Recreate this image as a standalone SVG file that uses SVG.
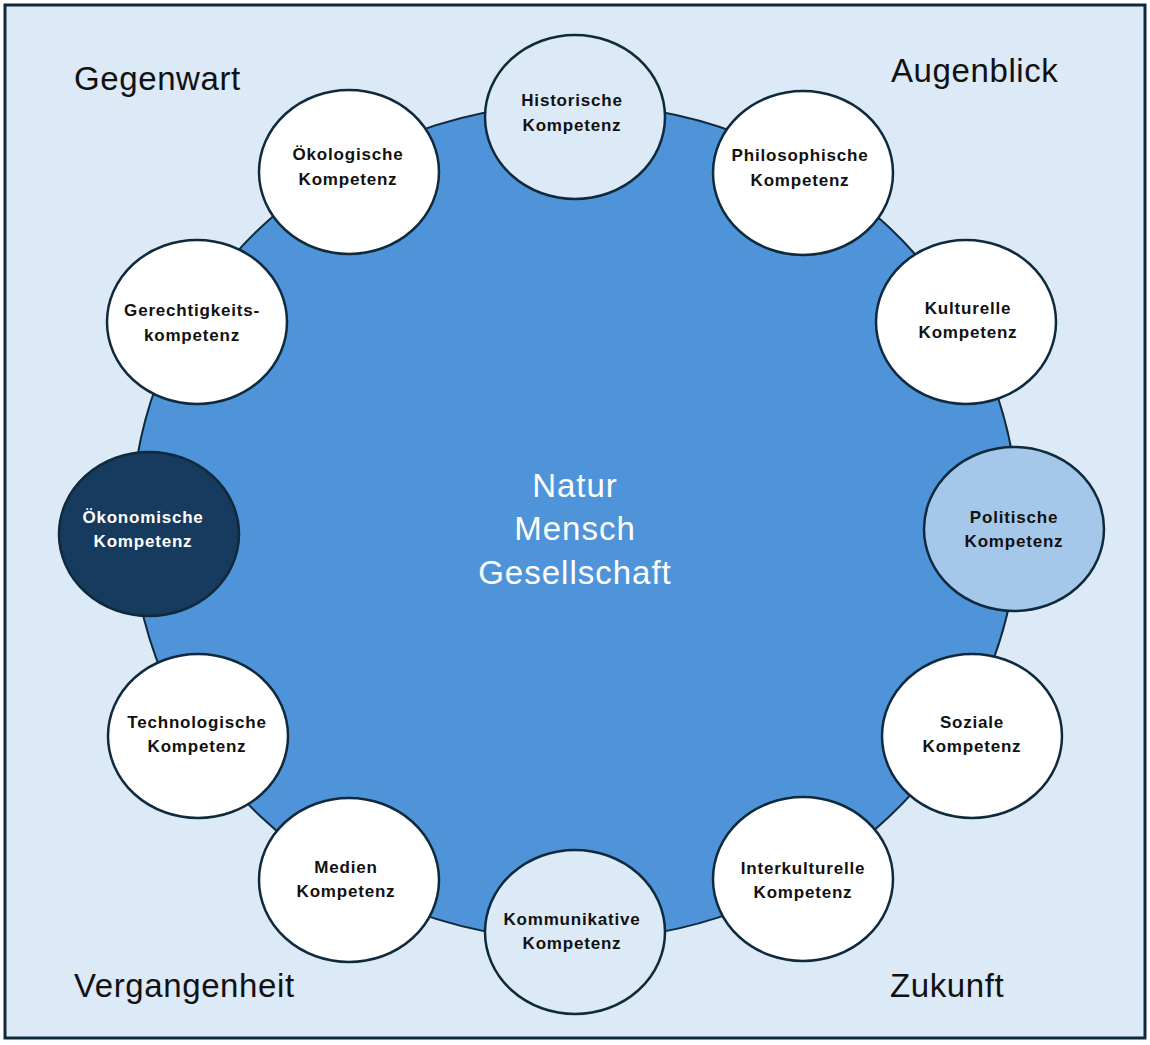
<svg xmlns="http://www.w3.org/2000/svg" width="1150" height="1045" viewBox="0 0 1150 1045">
<style>
.n{stroke:#0f2a3c;stroke-width:2.5}
.w{fill:#ffffff}
.l{fill:#dce9f6}
.t{font-family:"Liberation Sans",Arial,sans-serif;font-weight:bold;font-size:17px;letter-spacing:0.8px;text-anchor:middle;fill:#111}
.c{font-family:"Liberation Sans",Arial,sans-serif;font-size:33px;letter-spacing:0.6px;fill:#111}
.m{font-family:"Liberation Sans",Arial,sans-serif;font-size:33px;letter-spacing:1px;fill:#ffffff;text-anchor:middle}
</style>
<rect x="5" y="5" width="1140" height="1033" fill="#dce9f6" stroke="#0f2a3c" stroke-width="3"/>
<g id="core">
<ellipse cx="575" cy="522" rx="443" ry="418" fill="#4f94d8" stroke="#0f2a3c" stroke-width="2"/>
<text class="m" x="575" y="497">Natur</text>
<text class="m" x="575" y="540">Mensch</text>
<text class="m" x="575" y="584">Gesellschaft</text>
</g>
<g id="labels">
<text class="c" x="74" y="90">Gegenwart</text>
<text class="c" x="891" y="82">Augenblick</text>
<text class="c" x="74" y="997">Vergangenheit</text>
<text class="c" x="890" y="997">Zukunft</text>
</g>
<g id="connectors"></g>
<g id="n-historische"><ellipse class="n l" cx="575" cy="117" rx="90" ry="82"/><text class="t" x="572" y="106">Historische</text><text class="t" x="572" y="131">Kompetenz</text></g>
<g id="n-oekologische"><ellipse class="n w" cx="349" cy="172" rx="90" ry="82"/><text class="t" x="348" y="160">Ökologische</text><text class="t" x="348" y="185">Kompetenz</text></g>
<g id="n-philosophische"><ellipse class="n w" cx="803" cy="173" rx="90" ry="82"/><text class="t" x="800" y="161">Philosophische</text><text class="t" x="800" y="186">Kompetenz</text></g>
<g id="n-gerechtigkeit"><ellipse class="n w" cx="197" cy="322" rx="90" ry="82"/><text class="t" x="192" y="316">Gerechtigkeits-</text><text class="t" x="192" y="341">kompetenz</text></g>
<g id="n-kulturelle"><ellipse class="n w" cx="966" cy="322" rx="90" ry="82"/><text class="t" x="968" y="314">Kulturelle</text><text class="t" x="968" y="338">Kompetenz</text></g>
<g id="n-oekonomische"><ellipse cx="149" cy="534" rx="90" ry="82" fill="#173b5e" stroke="#0f2a3c" stroke-width="2.5"/><text class="t" x="143" y="523" style="fill:#fff">Ökonomische</text><text class="t" x="143" y="547" style="fill:#fff">Kompetenz</text></g>
<g id="n-politische"><ellipse class="n" cx="1014" cy="529" rx="90" ry="82" fill="#a5c8ea"/><text class="t" x="1014" y="523">Politische</text><text class="t" x="1014" y="547">Kompetenz</text></g>
<g id="n-technologische"><ellipse class="n w" cx="198" cy="736" rx="90" ry="82"/><text class="t" x="197" y="728">Technologische</text><text class="t" x="197" y="752">Kompetenz</text></g>
<g id="n-soziale"><ellipse class="n w" cx="972" cy="736" rx="90" ry="82"/><text class="t" x="972" y="728">Soziale</text><text class="t" x="972" y="752">Kompetenz</text></g>
<g id="n-medien"><ellipse class="n w" cx="349" cy="880" rx="90" ry="82"/><text class="t" x="346" y="873">Medien</text><text class="t" x="346" y="897">Kompetenz</text></g>
<g id="n-interkulturelle"><ellipse class="n w" cx="803" cy="879" rx="90" ry="82"/><text class="t" x="803" y="874">Interkulturelle</text><text class="t" x="803" y="898">Kompetenz</text></g>
<g id="n-kommunikative"><ellipse class="n l" cx="575" cy="932" rx="90" ry="82"/><text class="t" x="572" y="925">Kommunikative</text><text class="t" x="572" y="949">Kompetenz</text></g>
</svg>
